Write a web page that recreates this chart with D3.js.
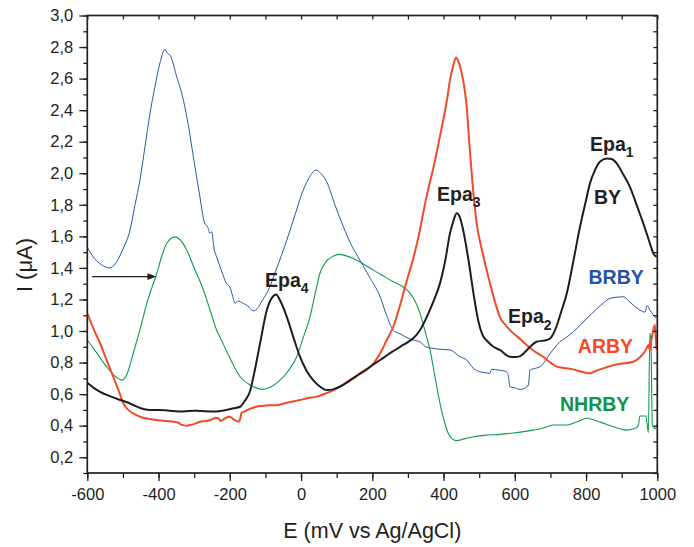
<!DOCTYPE html>
<html>
<head>
<meta charset="utf-8">
<script src="https://cdn.jsdelivr.net/npm/d3@7"></script>
<style>
  html, body { margin: 0; padding: 0; background: #fff; }
  svg { display: block; font-family: "Liberation Sans", Arial, sans-serif; }
</style>
</head>
<body>
<svg id="chart" width="694" height="547"></svg>
<script>
// Differential pulse voltammograms: current vs potential for four samples.

// BY (black)
const byE = [-600,-582,-564,-540,-508,-490,-471,-450,-424,-400,-370,-331,-300,-284,-246,-210,-190,-171,-160,-143,-130,-115,-96,-82,-70,-58,-40,-20,-3,15,34,52,72,90,109,140,166,195,222,250,278,300,315,335,353,372,390,405,418,428,437,446,455,470,484,497,512,521,540,558,586,600,615,630,643,661,690,700,713,730,746,765,783,797,811,825,839,858,872,886,905,923,945,958,970,980,989,998];
const byI = [0.672,0.64,0.615,0.59,0.563,0.55,0.531,0.51,0.5,0.5,0.495,0.49,0.495,0.493,0.49,0.5,0.51,0.52,0.55,0.62,0.75,0.922,1.133,1.21,1.232,1.19,1.09,0.95,0.837,0.75,0.689,0.65,0.626,0.63,0.647,0.69,0.732,0.775,0.816,0.86,0.9,0.93,0.954,1.01,1.09,1.19,1.302,1.45,1.619,1.7,1.746,1.72,1.64,1.45,1.239,1.07,0.964,0.94,0.9,0.88,0.837,0.835,0.841,0.87,0.9,0.932,0.943,0.955,1.006,1.12,1.239,1.45,1.66,1.8,1.936,2.02,2.073,2.094,2.09,2.062,1.99,1.914,1.78,1.7,1.619,1.55,1.492,1.47];

// BRBY (blue)
const brbyE = [-600,-580,-560,-538,-520,-500,-480,-466,-452,-438,-424,-410,-396,-382,-375,-368,-350,-330,-316,-302,-286,-270,-262,-256,-251,-244,-237,-223,-209,-200,-192,-185,-178,-162,-150,-134,-120,-110,-96,-68,-40,-15,6,25,42,55,72,95,119,140,165,190,222,240,259,280,300,315,335,350,371,390,418,446,465,484,502,520,530,535,555,577,583,586,600,615,630,638,643,660,671,700,727,745,764,785,802,830,850,867,890,905,920,935,951,965,972,979,990,998];
const brbyI = [1.53,1.46,1.42,1.4,1.43,1.52,1.64,1.8,1.96,2.17,2.38,2.55,2.7,2.785,2.76,2.75,2.62,2.46,2.3,2.1,1.88,1.68,1.66,1.62,1.63,1.52,1.47,1.38,1.3,1.28,1.22,1.175,1.19,1.175,1.16,1.128,1.15,1.19,1.24,1.4,1.576,1.75,1.893,1.98,2.02,2.0,1.946,1.8,1.66,1.55,1.45,1.35,1.217,1.1,1.006,0.98,0.955,0.943,0.93,0.9,0.89,0.884,0.88,0.837,0.816,0.763,0.742,0.735,0.732,0.757,0.752,0.742,0.7,0.647,0.64,0.63,0.64,0.658,0.753,0.765,0.774,0.86,0.932,0.96,0.995,1.04,1.08,1.14,1.18,1.207,1.215,1.217,1.19,1.16,1.133,1.12,1.16,1.133,1.1,1.08];

// ARBY (red)
const arbyE = [-600,-582,-564,-545,-527,-510,-499,-485,-471,-450,-424,-400,-380,-358,-345,-335,-320,-312,-300,-284,-265,-250,-240,-232,-226,-218,-205,-199,-190,-176,-170,-167,-158,-150,-140,-125,-110,-90,-68,-40,-20,-3,20,44,70,91,115,137,160,184,205,222,240,259,282,297,315,330,343,357,371,385,399,410,418,427,435,443,451,458,465,472,479,486,493,507,521,540,558,577,596,615,633,656,680,700,718,740,764,790,811,825,839,858,877,905,933,950,961,970,975,979,984,988,993,996,998];
const arbyI = [1.112,1.01,0.922,0.81,0.71,0.61,0.542,0.5,0.478,0.455,0.442,0.435,0.43,0.425,0.42,0.405,0.4,0.404,0.41,0.425,0.43,0.44,0.45,0.447,0.43,0.44,0.455,0.457,0.44,0.425,0.45,0.482,0.49,0.5,0.51,0.52,0.525,0.53,0.53,0.545,0.555,0.563,0.575,0.584,0.605,0.626,0.655,0.689,0.72,0.753,0.8,0.858,0.94,1.027,1.196,1.32,1.46,1.6,1.75,1.9,2.03,2.18,2.337,2.47,2.59,2.68,2.734,2.7,2.633,2.55,2.421,2.2,2.0,1.82,1.682,1.52,1.386,1.22,1.09,1.03,0.985,0.95,0.911,0.87,0.837,0.8,0.774,0.765,0.757,0.74,0.732,0.745,0.757,0.77,0.784,0.795,0.805,0.83,0.858,0.89,0.911,0.88,0.95,1.0,1.038,0.95,0.88];

// NHRBY (green)
const nhrbyE = [-600,-573,-546,-520,-503,-490,-471,-452,-433,-405,-390,-377,-354,-340,-321,-300,-274,-255,-237,-228,-200,-171,-140,-110,-85,-59,-35,-12,5,25,40,53,70,91,105,125,147,175,203,230,259,278,295,306,320,334,348,362,376,390,403,413,425,437,460,484,520,558,600,652,680,708,746,775,802,830,855,877,914,940,947,951,968,975,979,982,986,989,994,1000];
const nhrbyI = [0.943,0.86,0.774,0.71,0.689,0.72,0.859,1.01,1.175,1.366,1.48,1.556,1.597,1.58,1.513,1.4,1.26,1.13,1.006,0.964,0.83,0.71,0.655,0.63,0.645,0.689,0.75,0.837,0.95,1.09,1.24,1.366,1.44,1.475,1.486,1.478,1.46,1.425,1.386,1.35,1.312,1.291,1.265,1.239,1.19,1.112,1.0,0.88,0.71,0.542,0.42,0.352,0.315,0.305,0.318,0.33,0.34,0.345,0.355,0.372,0.385,0.404,0.404,0.425,0.447,0.43,0.41,0.393,0.372,0.385,0.404,0.461,0.461,0.355,0.985,0.95,0.4,0.393,0.38,0.415];

// Axis settings
const xDomain = [-600, 1000];
const yDomain = [0.1, 3.0];
const xMajorTicks = [-600, -400, -200, 0, 200, 400, 600, 800, 1000];
const yMajorTicks = [0.2, 0.4, 0.6, 0.8, 1.0, 1.2, 1.4, 1.6, 1.8, 2.0, 2.2, 2.4, 2.6, 2.8, 3.0];

// Peak and sample annotations
const labelText = ["Epa", "Epa", "Epa", "Epa", "BY", "BRBY", "ARBY", "NHRBY"];
const labelSub = ["1", "2", "3", "4", "", "", "", ""];
const labelE = [811, 581, 381.7, -101, 822, 807, 777, 727];
const labelI = [2.142, 1.05, 1.826, 1.281, 1.805, 1.298, 0.86, 0.493];

// Arrow marking the shift of the NHRBY peak
const arrowE = [-587, -406];
const arrowI = 1.345;

const svg = d3.select("#chart");
const plotL = 87.3, plotR = 657.3, plotT = 15.5, plotB = 473;

const x = d3.scaleLinear().domain(xDomain).range([plotL, plotR]);
const y = d3.scaleLinear().domain(yDomain).range([plotB, plotT]);

const commaFmt = d3.formatLocale({decimal: ",", thousands: ".", grouping: [3], currency: ["", ""], minus: "-"});
const yFmt = commaFmt.format(".1f");
const xFmt = commaFmt.format("d");

svg.append("defs").append("clipPath").attr("id", "plotClip")
  .append("rect").attr("x", plotL).attr("y", plotT)
  .attr("width", plotR - plotL).attr("height", plotB - plotT);

const series = [
  {E: nhrbyE, I: nhrbyI, color: "#0f9a4a", width: 1.1},
  {E: brbyE, I: brbyI, color: "#2556a8", width: 1.0},
  {E: arbyE, I: arbyI, color: "#f04a27", width: 2.0},
  {E: byE, I: byI, color: "#1f1d1e", width: 2.0}
];

const line = d3.line().curve(d3.curveMonotoneX);
const plot = svg.append("g").attr("clip-path", "url(#plotClip)");
series.forEach(s => {
  const pts = s.E.map((e, i) => [x(e), y(s.I[i])]);
  plot.append("path").attr("d", line(pts))
    .attr("fill", "none").attr("stroke", s.color)
    .attr("stroke-width", s.width).attr("stroke-linejoin", "round");
});

// Axes
const xMinor = d3.range(-600, 1001, 100);
const yMinor = d3.range(1, 31).map(d => d / 10);

function styleAxis(g) {
  g.selectAll("path").remove();
  g.selectAll("line").attr("stroke", "#231f20").attr("stroke-width", 1.3);
  g.selectAll("text").attr("fill", "#231f20").attr("font-size", "16.5px");
}

svg.append("g").attr("transform", `translate(0,${plotB})`)
  .call(d3.axisBottom(x).tickValues(xMinor).tickSize(5).tickFormat(""))
  .call(styleAxis);
svg.append("g").attr("transform", `translate(0,${plotB})`)
  .call(d3.axisBottom(x).tickValues(xMajorTicks).tickSize(8).tickPadding(7).tickFormat(xFmt))
  .call(styleAxis);
svg.append("g").attr("transform", `translate(${plotL},0)`)
  .call(d3.axisLeft(y).tickValues(yMinor).tickSize(4).tickFormat(""))
  .call(styleAxis);
svg.append("g").attr("transform", `translate(${plotL},0)`)
  .call(d3.axisLeft(y).tickValues(yMajorTicks).tickSize(8).tickPadding(6).tickFormat(yFmt))
  .call(styleAxis);
// inward ticks on the top and right edges
svg.append("g").attr("transform", `translate(0,${plotT})`)
  .call(d3.axisBottom(x).tickValues(xMinor).tickSize(4).tickFormat(""))
  .call(styleAxis);
svg.append("g").attr("transform", `translate(${plotR},0)`)
  .call(d3.axisLeft(y).tickValues(yMinor).tickSize(4).tickFormat(""))
  .call(styleAxis);

// frame
svg.append("rect").attr("x", plotL).attr("y", plotT)
  .attr("width", plotR - plotL).attr("height", plotB - plotT)
  .attr("fill", "none").attr("stroke", "#231f20").attr("stroke-width", 1.7);

// axis titles
svg.append("text").attr("x", (plotL + plotR) / 2).attr("y", 538)
  .attr("text-anchor", "middle").attr("font-size", "21.5px").attr("fill", "#231f20")
  .text("E (mV vs Ag/AgCl)");
svg.append("text").attr("transform", `translate(32,265) rotate(-90)`)
  .attr("text-anchor", "middle").attr("font-size", "22px").attr("fill", "#231f20")
  .text("I (μA)");

// arrow
const ay = y(arrowI);
svg.append("line").attr("x1", x(arrowE[0])).attr("x2", x(arrowE[1]) - 7)
  .attr("y1", ay).attr("y2", ay).attr("stroke", "#231f20").attr("stroke-width", 1.2);
const ax = x(arrowE[1]);
svg.append("path").attr("d", `M${ax},${ay} L${ax - 9},${ay - 3.3} L${ax - 9},${ay + 3.3} Z`)
  .attr("fill", "#231f20");

// annotations
const labelColor = ["#231f20", "#231f20", "#231f20", "#231f20", "#231f20", "#2352a6", "#f04a27", "#0e9347"];
labelText.forEach((t, i) => {
  const txt = svg.append("text").attr("x", x(labelE[i])).attr("y", y(labelI[i]))
    .attr("font-size", "19.5px").attr("font-weight", "bold").attr("fill", labelColor[i]);
  txt.append("tspan").text(t);
  if (labelSub[i]) {
    txt.append("tspan").attr("dy", 6.5).attr("font-size", "14px").text(labelSub[i]);
  }
});
</script>
</body>
</html>
